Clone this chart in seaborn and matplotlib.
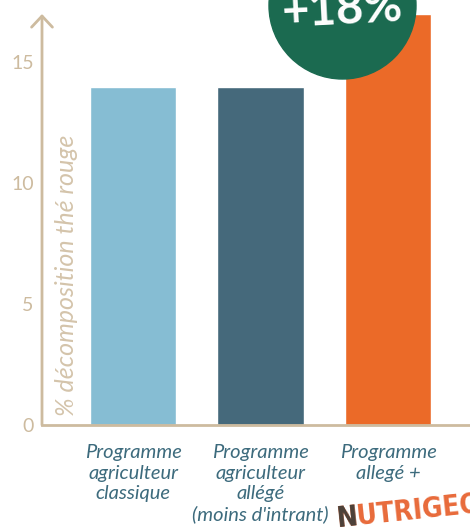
import matplotlib
matplotlib.use("Agg")
import matplotlib.pyplot as plt
import matplotlib.patches as mpatches
import seaborn as sns
import pandas as pd

# donnees
programmes = ["Programme\nagriculteur\nclassique",
              "Programme\nagriculteur\nallégé\n(moins d'intrant)",
              "Programme\nallegé +"]
decomposition = [14.0, 14.0, 17.0]
couleurs = ["#86bdd3", "#45697b", "#eb6a28"]
yticks = [0, 5, 10, 15]

beige = "#cdbb9f"
bleu_texte = "#3d6b7d"

sns.set_style("white")
plt.rcParams["font.family"] = ["Lato", "DejaVu Sans"]

df = pd.DataFrame({"programme": programmes, "valeur": decomposition})

fig = plt.figure(figsize=(4.7, 5.29), dpi=100)
ax = fig.add_axes([42 / 470, 1 - 425 / 529, 1 - 42 / 470, (425 - 14) / 529])

sns.barplot(data=df, x="programme", y="valeur", hue="programme",
            palette=couleurs, legend=False, width=0.675, ax=ax, saturation=1)

ax.set_xlim(-0.714, 2.643)
ax.set_ylim(0, 17)
ax.set_yticks(yticks)
ax.set_xlabel("")
ax.set_ylabel("")

for s in ["top", "right", "left"]:
    ax.spines[s].set_visible(False)
ax.spines["bottom"].set_color(beige)
ax.spines["bottom"].set_linewidth(2)

# axe vertical avec fleche
ax.annotate("", xy=(0, 1), xytext=(0, 0), xycoords="axes fraction",
            arrowprops=dict(arrowstyle="->, head_length=0.8, head_width=0.75",
                            color=beige, lw=2, mutation_scale=10,
                            shrinkA=0, shrinkB=0))

ax.tick_params(axis="y", length=0, pad=6, labelcolor=beige, labelsize=14)
ax.tick_params(axis="x", length=0, pad=14, labelcolor=bleu_texte, labelsize=14.5)
for t in ax.get_xticklabels():
    t.set_fontstyle("italic")
    t.set_linespacing(1.22)

ax.text(0.058, 0.365, "% décomposition thé rouge", transform=ax.transAxes,
        rotation=90, ha="center", va="center", fontsize=18,
        style="italic", color="#d4c4ab")

# pastille +18%
cercle = mpatches.Ellipse((342.5 / 470, 1 - 5.5 / 529), 2 * 73.5 / 470, 2 * 73.5 / 529,
                          transform=fig.transFigure, color="#1b6a50", zorder=5)
fig.patches.append(cercle)
fig.text(343 / 470, 1 - 24 / 529, "+18%", ha="center", va="baseline",
         rotation=3, rotation_mode="anchor", fontsize=34, fontweight="bold",
         color="white", zorder=6)

# logo NUTRIGEO
logo = dict(ha="left", va="baseline", rotation=6, rotation_mode="anchor",
            fontsize=20, fontweight="bold", fontstretch="condensed",
            family=["DejaVu Sans"])
fig.text(338 / 470, 1 - 527 / 529, "NUTRIGEO", color="#e86a3a", **logo)
fig.text(338 / 470, 1 - 527 / 529, "N", color="#4b4139", **logo)

fig.savefig("out.png", dpi=100)
